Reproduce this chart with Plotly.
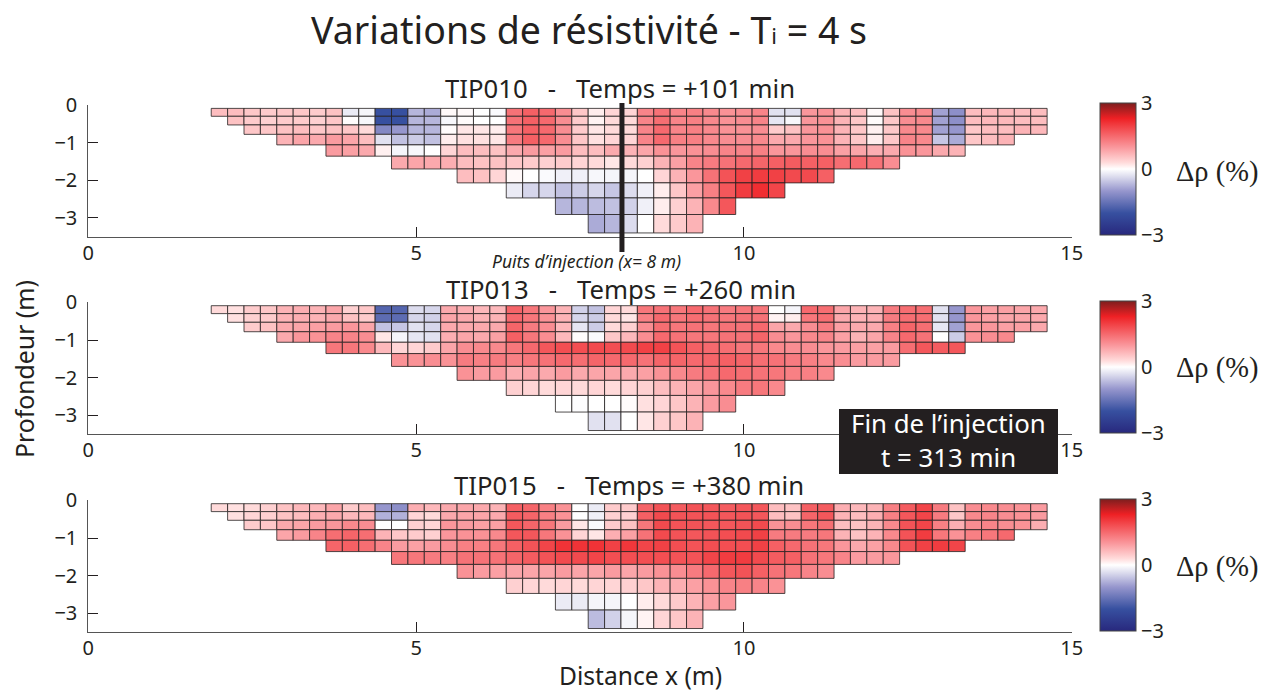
import plotly.graph_objects as go

W, H = 1275, 692

# Grid of the resistivity section
row_edges = [0.09, 0.30, 0.53, 0.78, 1.06, 1.36, 1.70, 2.07, 2.47, 2.91, 3.40]
row_first = [0, 1, 2, 4, 7, 11, 15, 18, 21, 23]
row_last = [50, 50, 50, 48, 45, 41, 37, 34, 31, 29]
x_start, x_step = 2.0, 0.25

tip010 = [
 [.6,.6,.5,.45,.5,.5,.45,.55,-.2,-.1,-2,-2,-.7,-.8,.05,.05,0,-.05,1.4,1.6,1.5,1.1,.5,.15,.35,.35,1.2,1.4,1.2,1.25,1.15,1.05,1.1,1.2,-.3,-.3,1,1.05,.7,.6,.05,.55,1.1,1.15,-.9,-1.1,.6,.65,.65,.6,.6],
 [.55,.45,.4,.45,.45,.4,.5,.02,-.08,-2,-2,-.7,-.7,-.08,.03,0,0,1.4,1.6,1.5,1.1,.45,.1,.3,.3,1.2,1.45,1.2,1.25,1.15,1.05,1.1,1.2,-.25,-.08,1,1.05,.7,.5,.03,.5,1.1,1.15,-.9,-1.1,.6,.65,.65,.6,.6],
 [.5,.5,.55,.6,.5,.55,.5,.3,-1.2,-1,-.7,-.7,.03,.2,.2,.15,1.35,1.6,1.5,1.1,.45,.2,.3,.3,1.2,1.5,1.2,1.25,1.15,1.05,1.05,1.1,.45,.55,1,1.05,.7,.5,.12,.5,1.15,1.15,-.9,-1,.5,.6,.6,.7,.65],
 [.7,.85,.8,.95,.85,.6,-.3,-.6,-.5,-.6,.15,.25,.25,.2,1.3,1.6,1.5,1.1,.5,.25,.35,.35,1.2,1.5,1.25,1.25,1.15,1.1,1.1,1.15,.8,.8,1,1.05,.7,.5,.15,.5,1.2,1.15,-.55,-.8,.5,.6,.7],
 [.95,.9,.8,.12,-.1,-.08,0,.35,.6,.6,.55,.8,.95,.9,.95,.6,.6,.8,.7,.85,1.05,1,1.05,1.1,1.2,1.2,1.25,1,1,1.1,1.1,.9,.85,.75,.8,1.05,1,.8,.7],
 [.8,.85,.8,.75,.6,.55,.55,.5,.45,.4,.45,.35,.3,.2,.3,.4,.7,.9,1.2,1.3,1.4,1.5,1.55,1.6,1.65,1.6,1.6,1.45,1.5,1.4,1.1],
 [.6,.55,.35,.05,0,-.05,-.15,-.15,-.08,-.1,-.1,0,.35,.7,1,1.4,1.75,1.95,2,1.95,1.85,1.85,1.6],
 [-.2,-.4,-.4,-.6,-.5,-.4,-.55,-.35,-.15,.15,.5,.9,1.25,1.7,2,2.15,1.9],
 [-.7,-.7,-.65,-.6,-.45,-.15,.15,.4,.7,1.15,1.7],
 [-.8,-.7,-.35,0,.3,.45,.7],
]

tip013 = [
 [.3,.25,.45,.5,.7,.75,.7,.85,.4,.5,-1.7,-1.7,-.35,-.4,.8,.75,.65,.65,1.55,1.35,1,.7,-.45,-.6,.35,.3,1.35,1.4,1.35,1.5,1.4,1.3,1.35,1.35,0,-.1,1.5,1.45,.85,.7,.7,1.3,1.45,1.45,-.3,-1,1,.9,.9,.85,.8],
 [.25,.4,.45,.7,.75,.7,.8,.55,.45,-1.6,-1.6,-.4,-.45,.85,.8,.7,.7,1.5,1.35,1.05,.7,-.4,-.5,.3,.2,1.25,1.5,1.35,1.45,1.4,1.35,1.4,1.4,.1,.15,1.35,1.45,.8,.7,.75,1.3,1.45,1.45,-.3,-1,1,.9,.85,.85,.8],
 [.45,.55,.8,.85,.9,.95,1,.85,-.6,-.55,-.3,-.4,.8,.8,.8,.8,1.55,1.3,1.1,.65,-.25,-.5,.3,.4,1.1,1.45,1.35,1.4,1.35,1.4,1.4,1.5,.85,.8,1.1,1.3,.9,.8,.8,1.25,1.55,1.45,-.25,-.9,1,1,.9,.9,.8],
 [.8,1,1.05,1.2,1.2,1.1,.2,-.1,-.25,-.3,.75,.85,.8,.9,1.6,1.35,1.1,.65,.02,-.05,.5,.65,1.1,1.5,1.4,1.35,1.35,1.4,1.4,1.55,1.1,1,1.15,1.2,.9,.7,.85,1.2,1.5,1.4,0,-.5,1.05,1.1,1.15],
 [1.35,1.35,1.15,.65,.35,.35,.45,.85,1.1,1.15,1.15,1.35,1.5,1.7,1.8,1.8,1.85,1.8,1.85,1.95,1.95,1.75,1.6,1.5,1.45,1.35,1.35,1.15,1.1,1.1,1,.95,.9,.9,.95,1.45,1.7,1.65,1.7],
 [1.05,1.05,1.1,1.05,1.3,1.25,1.3,1.25,1.35,1.4,1.5,1.45,1.55,1.5,1.5,1.4,1.55,1.55,1.5,1.55,1.6,1.55,1.45,1.4,1.3,1.25,1.15,1.1,.95,.95,.95],
 [1.05,.95,.95,.75,.85,.8,.95,.8,.85,.85,.8,.9,1.05,1.15,1.3,1.4,1.5,1.45,1.4,1.35,1.25,1.25,1.15],
 [.4,.35,.3,.35,.3,.35,.3,.35,.4,.6,.7,.85,1,1.15,1.3,1.35,1.15],
 [0,-.02,0,0,.03,.25,.35,.5,.7,.95,1.1],
 [-.3,-.3,0,.2,.4,.5,.7],
]

tip015 = [
 [.3,.25,.3,.4,.55,.65,.65,.85,.45,.6,-1,-1.1,.75,.65,.8,.85,.8,.7,1.6,1.55,1.25,1.05,0,-.2,.45,.45,1.55,1.75,1.65,1.75,1.7,1.65,1.7,1.7,.6,.55,1.6,1.65,.75,.65,.7,1.25,1.65,1.9,1.3,.55,1.1,1.15,1.1,1.05,.95],
 [.25,.35,.4,.55,.6,.75,.8,.65,.65,-.75,-.75,.35,.3,.8,.85,.85,.8,1.65,1.55,1.25,1.05,0,-.15,.4,.4,1.6,1.85,1.75,1.75,1.75,1.7,1.75,1.7,.6,.55,1.55,1.7,.7,.6,.75,1.25,1.7,1.9,1.3,.5,1.15,1.2,1.1,1.05,.95],
 [.45,.5,.8,.85,.95,1,1.15,1.1,0,0,.4,.35,1,.95,.9,.9,1.7,1.55,1.35,.95,.2,-.05,.45,.55,1.35,1.85,1.75,1.75,1.7,1.7,1.75,1.85,1.05,1.1,1.35,1.45,.6,.55,.7,1.15,1.75,1.9,1.25,.75,1.1,1.2,1.1,1.05,.75],
 [.85,.95,1.2,1.45,1.55,1.45,.7,.5,.45,.4,1,1.05,1.05,1.15,1.7,1.7,1.35,1.05,.35,.2,.75,.9,1.4,1.85,1.75,1.7,1.75,1.8,1.85,1.95,1.3,1.3,1.3,1.35,.7,.55,.7,1.15,1.75,2,1.35,1.05,1.25,1.35,1.5],
 [1.55,1.6,1.45,1.2,.95,.9,.95,1.1,1.25,1.25,1.35,1.6,1.75,1.9,2.1,2.1,2.1,1.95,2.05,1.9,1.95,1.8,1.75,1.8,1.8,1.8,1.95,1.6,1.5,1.4,1.35,1,.8,.9,1.15,1.75,1.95,2,1.9],
 [1.35,1.35,1.3,1.25,1.4,1.4,1.4,1.55,1.65,1.75,1.85,1.85,1.9,1.8,1.8,1.8,1.8,1.75,1.75,1.9,2,2,1.85,1.65,1.6,1.4,1.35,1.2,.95,.95,1],
 [1.05,.95,.9,.85,.85,.85,.95,.85,.85,.95,.85,.95,1.05,1.1,1.3,1.5,1.7,1.75,1.6,1.4,1.35,1.2,1.1],
 [.4,.35,.3,.35,.3,.35,.35,.4,.5,.7,.75,.9,1.05,1.2,1.25,1.2,1.05],
 [-.2,-.2,-.1,-.1,0,.15,.3,.45,.7,.9,1],
 [-.65,-.45,-.1,.1,.35,.5,.7],
]

panel_values = [tip010, tip013, tip015]
panel_titles = ["TIP010   -   Temps = +101 min",
                "TIP013   -   Temps = +260 min",
                "TIP015   -   Temps = +380 min"]
x_ticks = [0, 5, 10, 15]
y_ticks = [0, -1, -2, -3]
y_tick_labels = ["0", "−1", "−2", "−3"]
cbar_ticks = [-3, 0, 3]
cbar_labels = ["−3", "0", "3"]

# pixel layout: (top of axis, bottom of axis, colourbar top, colourbar bottom)
panels_px = [(105, 236.7, 103, 235), (302.3, 434.3, 301, 433), (500.3, 632.3, 499, 631)]
title_x_px = [620, 621, 629]
title_y_px = [88, 289, 485]
delta_y_px = [172, 368, 567]
AX_L, AX_R = 88.3, 1071.7
INK = "#231f20"
FONT = "Noto Sans"

colorscale = [
    [0.0, "rgb(40,40,125)"],
    [1/6, "rgb(55,80,160)"],
    [2/6, "rgb(150,150,205)"],
    [2.7/6, "rgb(225,225,240)"],
    [0.5, "rgb(255,255,255)"],
    [3.3/6, "rgb(255,218,218)"],
    [4/6, "rgb(250,150,155)"],
    [5/6, "rgb(241,60,64)"],
    [5.3/6, "rgb(238,32,36)"],
    [1.0, "rgb(125,30,30)"],
]

def px(x):
    return x / W

def py(y):
    return 1 - y / H

fig = go.Figure()
layout = {}
annotations = []

def text(x, y, s, size, color=INK, family=FONT, **kw):
    annotations.append(dict(x=px(x), y=py(y), xref="paper", yref="paper", text=s,
                            showarrow=False, xanchor="center", yanchor="middle",
                            font=dict(size=size, color=color, family=family), **kw))

for p, values in enumerate(panel_values):
    n = "" if p == 0 else str(p + 1)
    ca = "coloraxis" + n
    for r, vals in enumerate(values):
        assert len(vals) == row_last[r] - row_first[r] + 1, (p, r, len(vals))
        top, bot = row_edges[r], row_edges[r + 1]
        xs = [x_start + x_step * (row_first[r] + k) for k in range(len(vals))]
        fig.add_trace(go.Bar(
            x=xs, y=[bot - top] * len(vals), base=[-bot] * len(vals), width=x_step,
            xaxis="x" + n, yaxis="y" + n, showlegend=False, hoverinfo="skip",
            marker=dict(color=vals, coloraxis=ca, line=dict(color=INK, width=0.8)),
        ))
    t, b, ct, cb = panels_px[p]
    axis_common = dict(showgrid=False, zeroline=False, showline=True, linecolor="#555555",
                       linewidth=1, ticks="inside", ticklen=10, tickwidth=1, tickcolor=INK,
                       tickfont=dict(size=20, color=INK, family=FONT), automargin=False)
    layout["xaxis" + n] = dict(domain=[px(AX_L), px(AX_R)], range=[0, 15], tickvals=x_ticks,
                               anchor="y" + n, ticklabelstandoff=-2, **axis_common)
    layout["yaxis" + n] = dict(domain=[py(b), py(t)], range=[-3.5, 0], tickvals=y_ticks,
                               ticktext=y_tick_labels, anchor="x" + n, ticklabelstandoff=6,
                               **axis_common)
    layout[ca] = dict(cmin=-3, cmax=3, colorscale=colorscale, colorbar=dict(
        x=px(1100), xanchor="left", y=py((ct + cb) / 2), yanchor="middle",
        thicknessmode="pixels", thickness=36, lenmode="pixels", len=cb - ct,
        xpad=0, ypad=0, outlinewidth=1, outlinecolor="#444444", borderwidth=0,
        tickvals=cbar_ticks, ticktext=cbar_labels, ticks="",
        tickfont=dict(size=20, color=INK, family=FONT)))
    text(title_x_px[p], title_y_px[p], panel_titles[p], 25.7)
    text(1217, delta_y_px[p], "Δρ (%)", 28.5, family="Liberation Serif")

text(589, 30, 'Variations de résistivité - T<span style="font-size:22px">i</span> = 4 s', 37.5)
text(24, 369, "Profondeur (m)", 24.8, textangle=-90)
text(641, 675, "Distance x (m)", 24.6)
text(586, 261, "<i>Puits d’injection (x= 8 m)</i>", 17.5)
text(948, 423, "Fin de l’injection", 25.8, color="white")
text(948, 457, "t = 313 min", 25.8, color="white")

shapes = [
    dict(type="line", xref="x", yref="paper", x0=8.14, x1=8.14, y0=py(103), y1=py(252),
         line=dict(color=INK, width=5), layer="above"),
    dict(type="rect", xref="paper", yref="paper", x0=px(839), x1=px(1058), y0=py(409), y1=py(474),
         fillcolor=INK, line=dict(width=0), layer="above"),
]

fig.update_layout(width=W, height=H, autosize=False, barmode="overlay",
                  margin=dict(l=0, r=0, t=0, b=0, autoexpand=False),
                  paper_bgcolor="white", plot_bgcolor="white",
                  annotations=annotations, shapes=shapes, **layout)

fig.write_html("out.html", config={"displayModeBar": False},
               post_script="document.body.style.margin='0';")
